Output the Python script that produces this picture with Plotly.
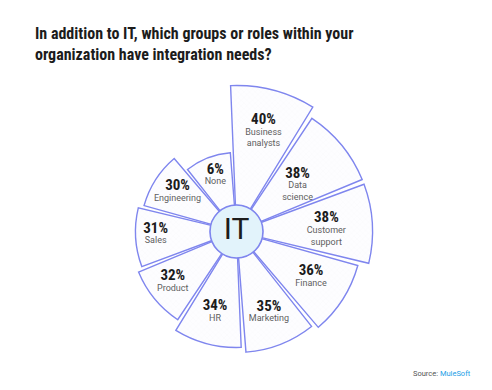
import plotly.graph_objects as go

# ---- data ----
categories = ["Business<br>analysts", "Data<br>science", "Customer<br>support", "Finance",
              "Marketing", "HR", "Product", "Sales", "Engineering", "None"]
values = [40, 38, 38, 36, 35, 34, 32, 31, 30, 6]
title_text = "In addition to IT, which groups or roles within your<br>organization have integration needs?"
source_name = "MuleSoft"

# ---- styling / geometry constants ----
W, H = 492, 390
CX, CY = 236.5, 231.5          # centre of the chart in px (from top-left)
PX_PER_UNIT = 5.0
R_ZERO = 10.8                   # radial value at the centre
R_MAX = 41.0
BASE = 16.0                     # inner start of the wedges (hidden under IT disc)
DISPLAY_MIN = 26.6              # minimum drawn length so tiny answers stay visible
LABEL_R_PX = [107, 79, 90, 88.5, 89, 85, 82.5, 81, 70, 58]
BLUE = "#7f86ee"

radius_px = (R_MAX - R_ZERO) * PX_PER_UNIT
dom_x = [(CX - radius_px) / W, (CX + radius_px) / W]
dom_y = [((H - CY) - radius_px) / H, ((H - CY) + radius_px) / H]

display_end = [max(v, DISPLAY_MIN) for v in values]
bar_len = [e - BASE for e in display_end]
label_r = [R_ZERO + p / PX_PER_UNIT for p in LABEL_R_PX]

fig = go.Figure()
fig.add_trace(go.Barpolar(
    r=bar_len, theta=categories, base=[BASE] * len(values),
    marker=dict(color="#fcfcfe", line=dict(color=BLUE, width=1.4),
                pattern=dict(shape="x", size=4, solidity=0.08, fgcolor="#e6e6ee", bgcolor="#fdfdff")),
    hoverinfo="skip", showlegend=False,
))

pct_font = "Roboto Condensed, Liberation Sans Narrow, DejaVu Sans Condensed, Roboto, sans-serif"
fig.add_trace(go.Scatterpolar(
    r=label_r, theta=categories, mode="text",
    text=[f"<b>{v}%</b>" for v in values], textposition="top center",
    textfont=dict(family=pct_font, size=15, color="#1c1c1c"),
    hoverinfo="skip", showlegend=False,
))
fig.add_trace(go.Scatterpolar(
    r=label_r, theta=categories, mode="text",
    text=categories, textposition="bottom center",
    textfont=dict(family="Roboto, sans-serif", size=9, color="#606060"),
    hoverinfo="skip", showlegend=False,
))
# IT disc at the centre
fig.add_trace(go.Scatterpolar(
    r=[R_ZERO], theta=[categories[0]], mode="markers+text", text=["IT"],
    textposition="middle center",
    textfont=dict(family="Roboto, sans-serif", size=30, color="#1c1c1c"),
    marker=dict(size=53, color="#e2f3fb", line=dict(color=BLUE, width=1.6)),
    hoverinfo="skip", showlegend=False,
))

fig.update_layout(
    width=W, height=H, margin=dict(l=0, r=0, t=0, b=0),
    paper_bgcolor="white", plot_bgcolor="white",
    polar=dict(
        domain=dict(x=dom_x, y=dom_y),
        bgcolor="rgba(0,0,0,0)",
        bargap=0.06,
        radialaxis=dict(range=[R_ZERO, R_MAX], visible=False),
        angularaxis=dict(type="category", categoryorder="array", categoryarray=categories,
                         direction="clockwise", rotation=75.4,
                         visible=False),
    ),
    annotations=[
        dict(text=f"<b>{title_text}</b>", x=33 / W, y=1 - 22 / H, xref="paper", yref="paper",
             xanchor="left", yanchor="top", align="left", showarrow=False,
             font=dict(family=pct_font, size=16, color="#1c1c1c")),
        dict(text=f"Source: <span style='color:#1a9ee6'>{source_name}</span>",
             x=473 / W, y=1 - 373 / H, xref="paper", yref="paper",
             xanchor="right", yanchor="middle", showarrow=False,
             font=dict(family="Roboto, sans-serif", size=7.5, color="#555555")),
    ],
)

fig.write_html("out.html", config={"displayModeBar": False},
               post_script="document.body.style.margin='0px';")
